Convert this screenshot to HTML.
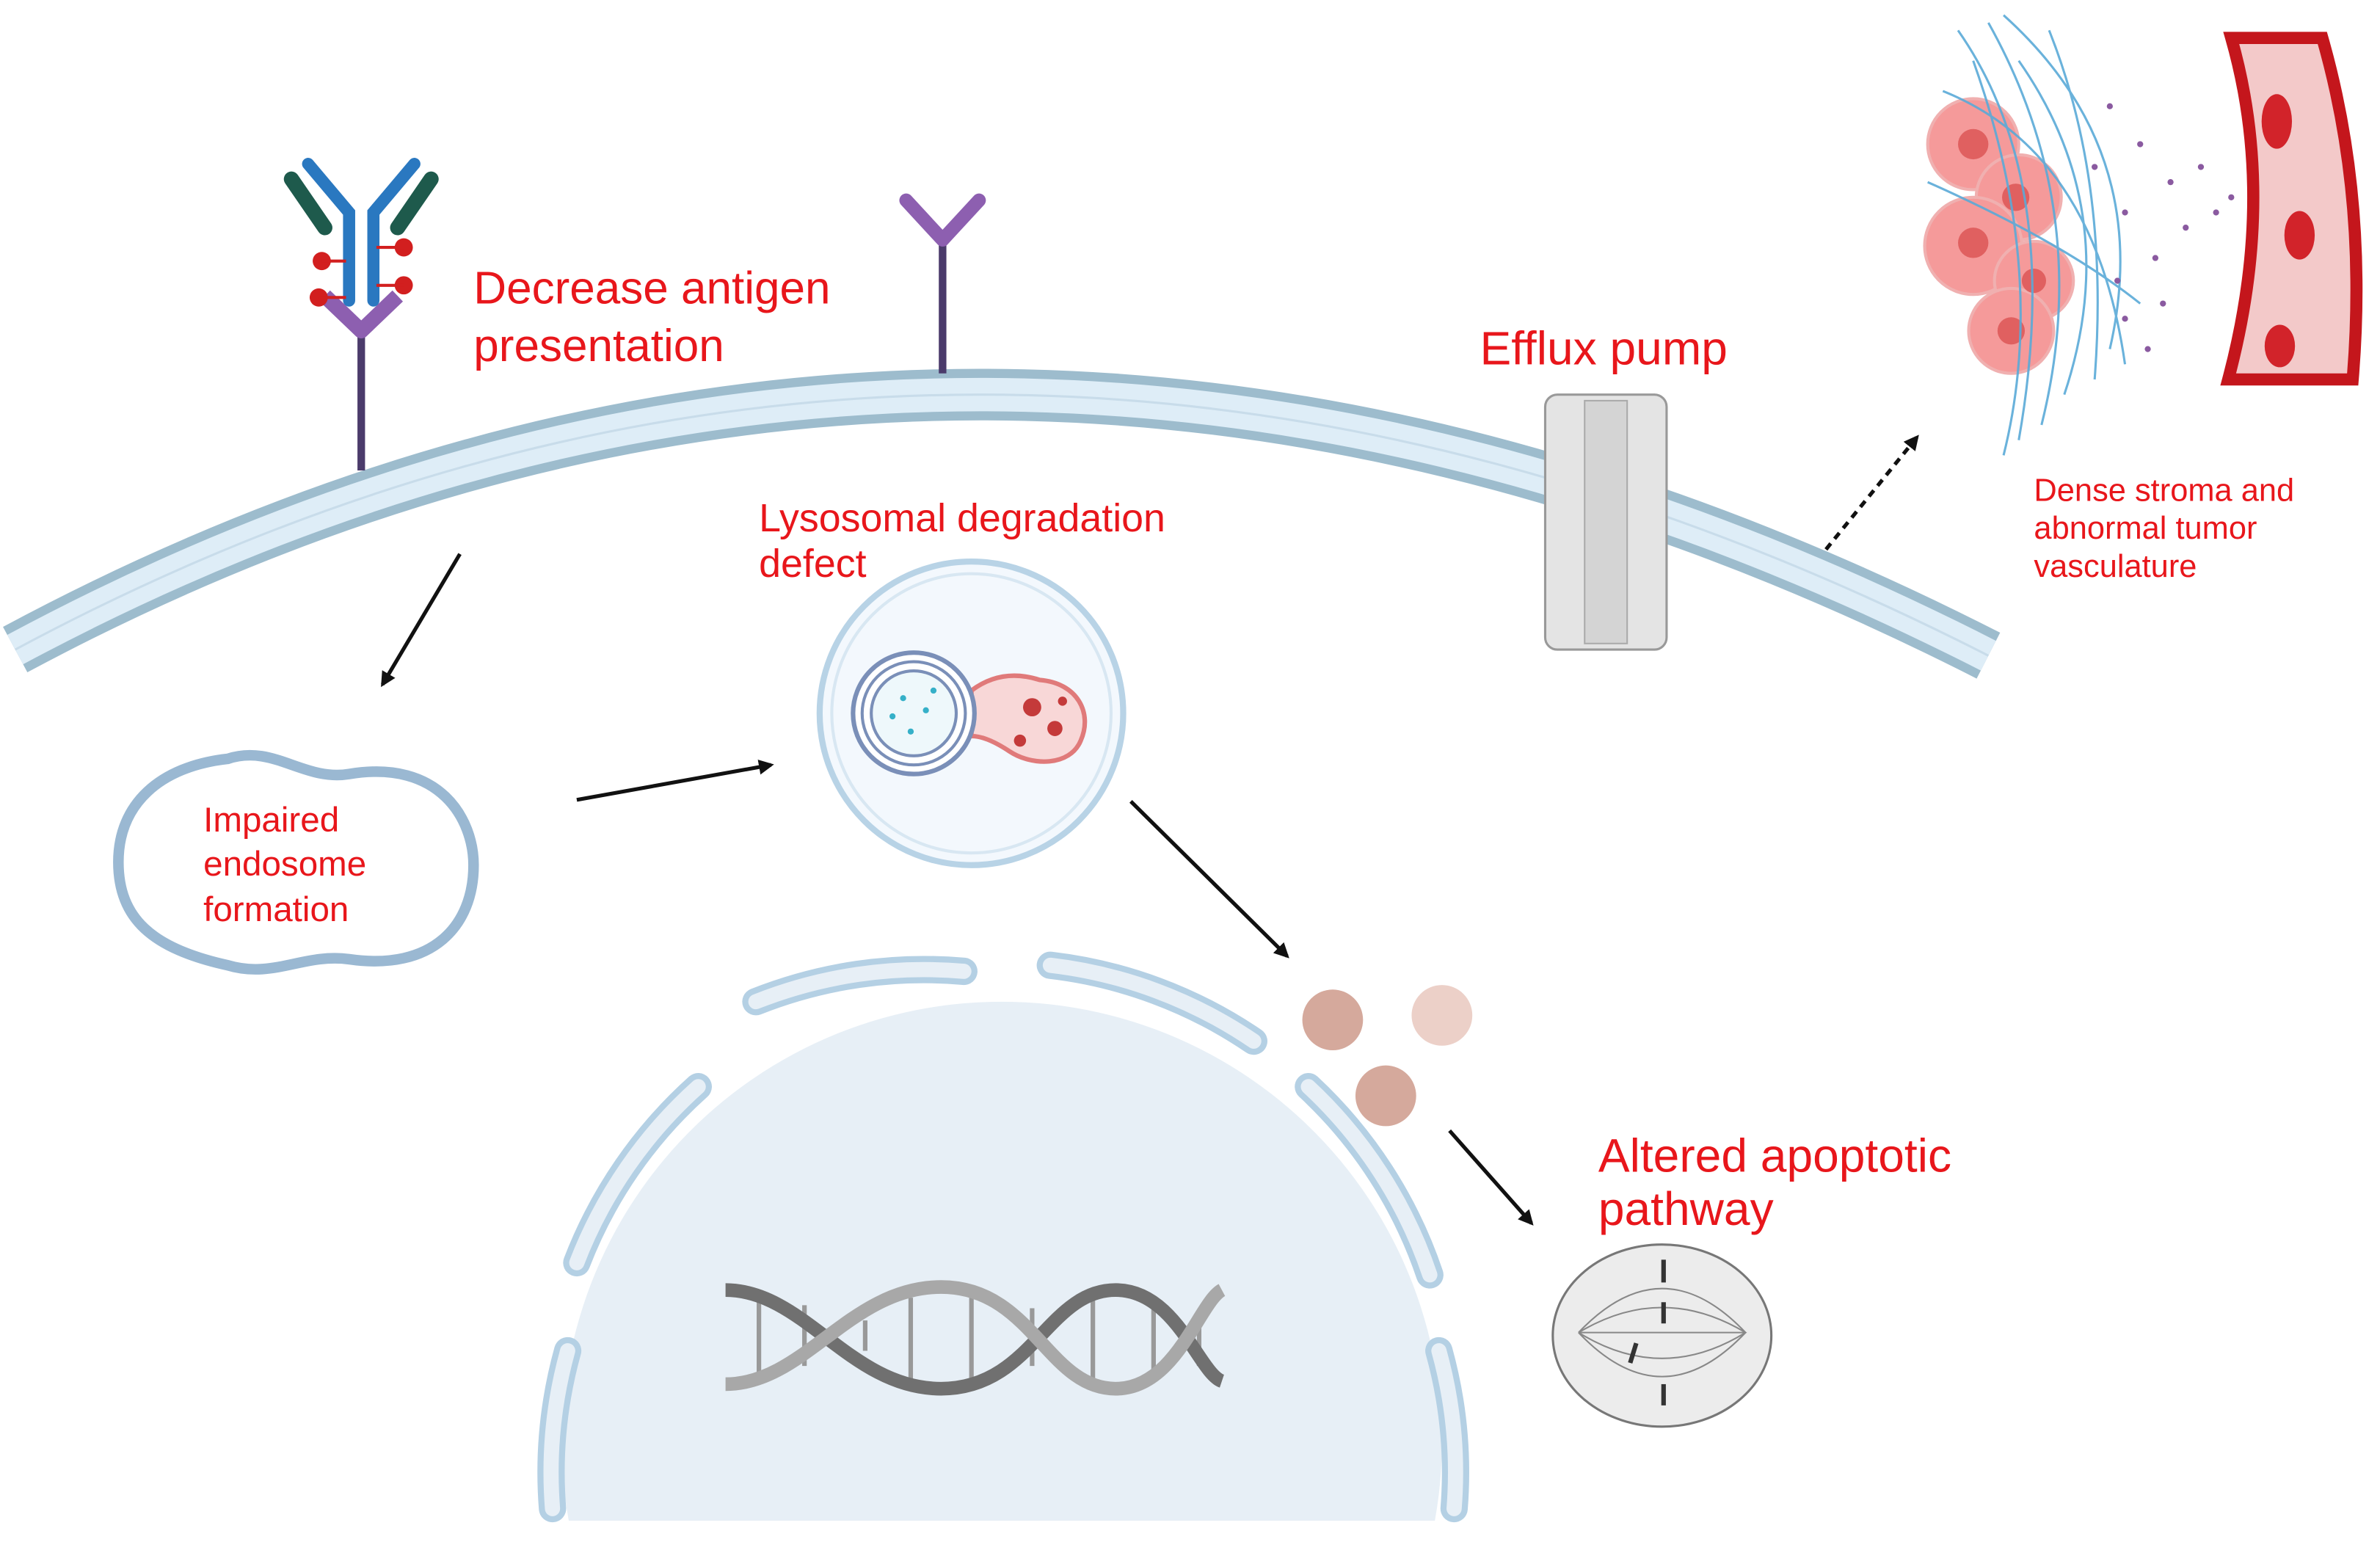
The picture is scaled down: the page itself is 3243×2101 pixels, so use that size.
<!DOCTYPE html>
<html><head><meta charset="utf-8"><style>
html,body{margin:0;padding:0;background:#fff;width:3243px;height:2101px;overflow:hidden;}
svg{display:block;}
text{font-family:"Liberation Sans",sans-serif;fill:#e8161b;}
</style></head><body>
<svg width="3243" height="2101" viewBox="0 0 1568 1016" preserveAspectRatio="none" xmlns="http://www.w3.org/2000/svg">
<defs>
<marker id="ah" markerWidth="10" markerHeight="10" refX="8" refY="5" orient="auto" markerUnits="userSpaceOnUse"><path d="M0,0 L10,5 L0,10 z" fill="#111"/></marker>
</defs>
<!-- membrane -->
<path d="M10,428 Q640,90 1310,432" fill="none" stroke="#9dbccd" stroke-width="34"/>
<path d="M10,428 Q640,90 1310,432" fill="none" stroke="#deedf7" stroke-width="22"/>
<path d="M10,428 Q640,90 1310,432" fill="none" stroke="#c8dcea" stroke-width="1.5"/>
<!-- antibody -->
<line x1="238" y1="215" x2="238" y2="310" stroke="#4b3b6b" stroke-width="5"/>
<path d="M214,195 L238,218 L262,195" fill="none" stroke="#8d5fb0" stroke-width="10" stroke-linejoin="round"/>
<path d="M203,108 L230,140 L230,198 M273,108 L246,140 L246,198" fill="none" stroke="#2a78c0" stroke-width="8" stroke-linecap="round"/>
<path d="M192,118 L214,150 M284,118 L262,150" fill="none" stroke="#1e5a4c" stroke-width="10" stroke-linecap="round"/>
<g fill="#d21f1f"><circle cx="212" cy="172" r="6"/><circle cx="266" cy="163" r="6"/><circle cx="210" cy="196" r="6"/><circle cx="266" cy="188" r="6"/></g>
<g stroke="#d21f1f" stroke-width="2"><line x1="212" y1="172" x2="228" y2="172"/><line x1="248" y1="163" x2="266" y2="163"/><line x1="210" y1="196" x2="228" y2="196"/><line x1="248" y1="188" x2="266" y2="188"/></g>
<!-- receptor -->
<line x1="621" y1="158" x2="621" y2="246" stroke="#4b3b6b" stroke-width="5"/>
<path d="M597,132 L621,158 L645,132" fill="none" stroke="#8d5fb0" stroke-width="9" stroke-linecap="round" stroke-linejoin="round"/>
<text x="312" y="200" font-size="30">Decrease antigen</text>
<text x="312" y="238" font-size="30">presentation</text>
<text x="975" y="240" font-size="31">Efflux pump</text>
<!-- efflux pump -->
<rect x="1018" y="260" width="80" height="168" rx="8" fill="#e4e4e4" stroke="#999" stroke-width="1.5"/>
<rect x="1044" y="264" width="28" height="160" fill="#d4d4d4" stroke="#aaa" stroke-width="1"/>
<!-- tumor region -->
<g>
<path d="M1470,25 Q1500,130 1468,250 L1550,250 Q1560,130 1530,25 z" fill="#f3c9c9" stroke="#c4161c" stroke-width="8"/>
<ellipse cx="1500" cy="80" rx="10" ry="18" fill="#d2232a"/>
<ellipse cx="1515" cy="155" rx="10" ry="16" fill="#d2232a"/>
<ellipse cx="1502" cy="228" rx="10" ry="14" fill="#d2232a"/>
<g fill="#f59a9a" stroke="#f0b0b0" stroke-width="2">
<circle cx="1300" cy="95" r="30"/><circle cx="1330" cy="130" r="28"/><circle cx="1300" cy="162" r="32"/><circle cx="1340" cy="185" r="26"/><circle cx="1325" cy="218" r="28"/>
</g>
<g fill="#e06060"><circle cx="1300" cy="95" r="10"/><circle cx="1328" cy="130" r="9"/><circle cx="1300" cy="160" r="10"/><circle cx="1340" cy="185" r="8"/><circle cx="1325" cy="218" r="9"/></g>
<g stroke="#5aaad8" stroke-width="1.5" fill="none" opacity="0.9">
<path d="M1290,20 Q1360,120 1330,290"/><path d="M1310,15 Q1380,140 1345,280"/><path d="M1330,40 Q1400,140 1360,260"/><path d="M1280,60 Q1380,100 1400,240"/><path d="M1300,40 Q1350,180 1320,300"/><path d="M1350,20 Q1390,120 1380,250"/><path d="M1270,120 Q1360,160 1410,200"/><path d="M1320,10 Q1420,100 1390,230"/>
</g>
<g fill="#8a5aa0">
<circle cx="1390" cy="70" r="2"/><circle cx="1410" cy="95" r="2"/><circle cx="1430" cy="120" r="2"/><circle cx="1400" cy="140" r="2"/><circle cx="1450" cy="110" r="2"/><circle cx="1470" cy="130" r="2"/><circle cx="1420" cy="170" r="2"/><circle cx="1440" cy="150" r="2"/><circle cx="1400" cy="210" r="2"/><circle cx="1415" cy="230" r="2"/><circle cx="1380" cy="110" r="2"/><circle cx="1460" cy="140" r="2"/><circle cx="1425" cy="200" r="2"/><circle cx="1395" cy="185" r="2"/>
</g>
</g>
<text x="1340" y="330" font-size="21">Dense stroma and</text>
<text x="1340" y="355" font-size="21">abnormal tumor</text>
<text x="1340" y="380" font-size="21">vasculature</text>
<line x1="1203" y1="362" x2="1263" y2="288" stroke="#111" stroke-width="2.5" stroke-dasharray="5,4" marker-end="url(#ah)"/>
<!-- arrows -->
<line x1="303" y1="365" x2="252" y2="451" stroke="#111" stroke-width="2.5" marker-end="url(#ah)"/>
<line x1="380" y1="527" x2="508" y2="504" stroke="#111" stroke-width="2.5" marker-end="url(#ah)"/>
<line x1="745" y1="528" x2="848" y2="630" stroke="#111" stroke-width="2.5" marker-end="url(#ah)"/>
<line x1="955" y1="745" x2="1009" y2="806" stroke="#111" stroke-width="2.5" marker-end="url(#ah)"/>
<!-- endosome -->
<path d="M150,500 C180,490 200,515 230,510 C290,500 312,540 312,570 C312,610 285,640 230,632 C200,628 180,645 150,636 C100,625 78,605 78,568 C78,530 105,505 150,500 z" fill="#fff" stroke="#9ab8d2" stroke-width="7"/>
<text x="134" y="548" font-size="23">Impaired</text>
<text x="134" y="577" font-size="23">endosome</text>
<text x="134" y="607" font-size="23">formation</text>
<!-- lysosome -->
<text x="500" y="350" font-size="26">Lysosomal degradation</text>
<text x="500" y="380" font-size="26">defect</text>
<circle cx="640" cy="470" r="100" fill="#f3f8fd" stroke="#b8d3e6" stroke-width="4"/>
<circle cx="640" cy="470" r="92" fill="none" stroke="#d8e7f2" stroke-width="2"/>
<path d="M640,455 Q660,440 685,448 C710,450 720,470 712,488 C705,505 680,505 665,495 Q650,485 640,485 z" fill="#f8d7d7" stroke="#e07a7a" stroke-width="3"/>
<circle cx="602" cy="470" r="40" fill="#fff" stroke="#7a8fb8" stroke-width="3"/>
<circle cx="602" cy="470" r="34" fill="none" stroke="#7a8fb8" stroke-width="2"/>
<circle cx="602" cy="470" r="28" fill="#eef8fb" stroke="#7a8fb8" stroke-width="2"/>
<g fill="#35b0c8"><circle cx="595" cy="460" r="2"/><circle cx="610" cy="468" r="2"/><circle cx="600" cy="482" r="2"/><circle cx="588" cy="472" r="2"/><circle cx="615" cy="455" r="2"/></g>
<g fill="#c43a3a"><circle cx="680" cy="466" r="6"/><circle cx="695" cy="480" r="5"/><circle cx="672" cy="488" r="4"/><circle cx="700" cy="462" r="3"/></g>
<!-- spheres -->
<circle cx="878" cy="672" r="20" fill="#d5a99c"/>
<circle cx="950" cy="669" r="20" fill="#ecd0c8"/>
<circle cx="913" cy="722" r="20" fill="#d5a99c"/>
<!-- nucleus -->
<path d="M374.7,1002 A290,290 0 1 1 945.3,1002 Z" fill="#e7eff6"/>
<g fill="none" stroke="#b4d0e4" stroke-width="18" stroke-linecap="round">
<path d="M498,660 A300,300 0 0 1 635,640"/>
<path d="M692,636 A300,300 0 0 1 826,686"/>
<path d="M460,716 A300,300 0 0 0 380,832"/>
<path d="M862,716 A300,300 0 0 1 942,840"/>
<path d="M374,890 A300,300 0 0 0 364,994"/>
<path d="M948,890 A300,300 0 0 1 958,994"/>
</g>
<g fill="none" stroke="#e7eff6" stroke-width="10" stroke-linecap="round">
<path d="M498,660 A300,300 0 0 1 635,640"/>
<path d="M692,636 A300,300 0 0 1 826,686"/>
<path d="M460,716 A300,300 0 0 0 380,832"/>
<path d="M862,716 A300,300 0 0 1 942,840"/>
<path d="M374,890 A300,300 0 0 0 364,994"/>
<path d="M948,890 A300,300 0 0 1 958,994"/>
</g>
<!-- DNA -->
<g stroke="#999" stroke-width="3">
<line x1="500" y1="858" x2="500" y2="905"/><line x1="530" y1="860" x2="530" y2="900"/><line x1="570" y1="870" x2="570" y2="890"/><line x1="600" y1="855" x2="600" y2="910"/><line x1="640" y1="855" x2="640" y2="910"/><line x1="680" y1="862" x2="680" y2="900"/><line x1="720" y1="856" x2="720" y2="908"/><line x1="760" y1="856" x2="760" y2="908"/><line x1="790" y1="865" x2="790" y2="900"/>
</g>
<path d="M478,850 C530,850 560,915 620,915 C680,915 690,850 735,850 C775,850 790,905 805,910" fill="none" stroke="#707070" stroke-width="9"/>
<path d="M478,912 C530,912 560,848 620,848 C680,848 690,915 735,915 C775,915 790,858 805,850" fill="none" stroke="#a8a8a8" stroke-width="9"/>
<!-- apoptosis -->
<text x="1053" y="772" font-size="31">Altered apoptotic</text>
<text x="1053" y="807" font-size="31">pathway</text>
<ellipse cx="1095" cy="880" rx="72" ry="60" fill="#ececec" stroke="#777" stroke-width="1.5"/>
<g fill="none" stroke="#888" stroke-width="1">
<path d="M1040,878 Q1095,820 1150,878 Q1095,936 1040,878"/>
<path d="M1040,878 Q1095,845 1150,878 Q1095,912 1040,878"/>
<line x1="1040" y1="878" x2="1150" y2="878"/>
</g>
<g stroke="#333" stroke-width="3"><line x1="1096" y1="830" x2="1096" y2="845"/><line x1="1096" y1="858" x2="1096" y2="872"/><line x1="1078" y1="885" x2="1074" y2="898"/><line x1="1096" y1="912" x2="1096" y2="926"/></g>
</svg>
</body></html>
